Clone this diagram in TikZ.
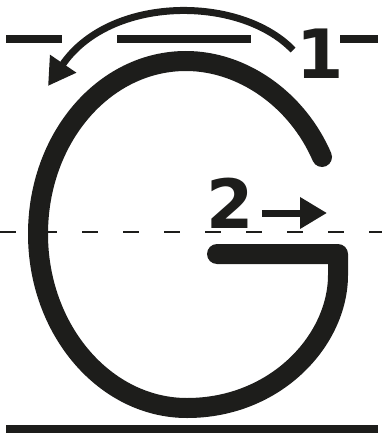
\documentclass[tikz,border=0pt]{standalone}
\usepackage{fontspec}
\setmainfont{DejaVu Sans}
\usetikzlibrary{arrows.meta}
\definecolor{ink}{RGB}{29,29,27}
\begin{document}
\begin{tikzpicture}[x=1pt,y=-1pt,
  guide/.style={draw=ink,line width=8pt},
  midguide/.style={draw=ink,line width=1.5pt,dash pattern=on 16pt off 25pt},
  letter/.style={draw=ink,line width=20pt,line cap=round,line join=round},
  stroke arrow/.style={draw=ink,line width=7pt,-{Triangle[length=27pt,width=30pt]}},
  numlabel/.style={inner sep=0pt,text=ink,font=\bfseries\fontsize{68}{68}\selectfont}]
\useasboundingbox (0,0) rectangle (382,433);
% guide lines
\coordinate (t1a) at (6,39);   \coordinate (t1b) at (62,39);
\coordinate (t2a) at (117,39); \coordinate (t2b) at (251,39);
\coordinate (t3a) at (340,39); \coordinate (t3b) at (378,39);
\coordinate (ba) at (6,429);   \coordinate (bb) at (378,429);
\coordinate (ma) at (0,232);   \coordinate (mb) at (382,232);
\draw[guide] (t1a) -- (t1b);
\draw[guide] (t2a) -- (t2b);
\draw[guide] (t3a) -- (t3b);
\draw[guide] (ba) -- (bb);
\draw[midguide] (ma) -- (mb);
% letter G
\coordinate (gstart) at (322,157);
\coordinate (gtop) at (186,61);
\coordinate (gleft) at (38,234);
\coordinate (gbot) at (187,408);
\coordinate (gright) at (338,275);
\coordinate (gcorner) at (338,254);
\coordinate (gend) at (217,254);
\draw[letter] (gstart) .. controls (297,99) and (242,61) .. (gtop)
  .. controls (104,61) and (38,138) .. (gleft)
  .. controls (38,330) and (105,408) .. (gbot)
  .. controls (276,408) and (338,340) .. (gright)
  -- (gcorner) -- (gend);
% stroke 1
\coordinate (a1s) at (293,50);
\coordinate (a1e) at (48,86);
\draw[stroke arrow] (a1s) .. controls (240,-5) and (110,-5) .. (a1e);
\node[numlabel] (n1) at (320,54) {1};
% stroke 2
\coordinate (a2s) at (262,213);
\coordinate (a2e) at (327,213);
\draw[stroke arrow] (a2s) -- (a2e);
\node[numlabel] (n2) at (230,203) {2};
\end{tikzpicture}
\end{document}
